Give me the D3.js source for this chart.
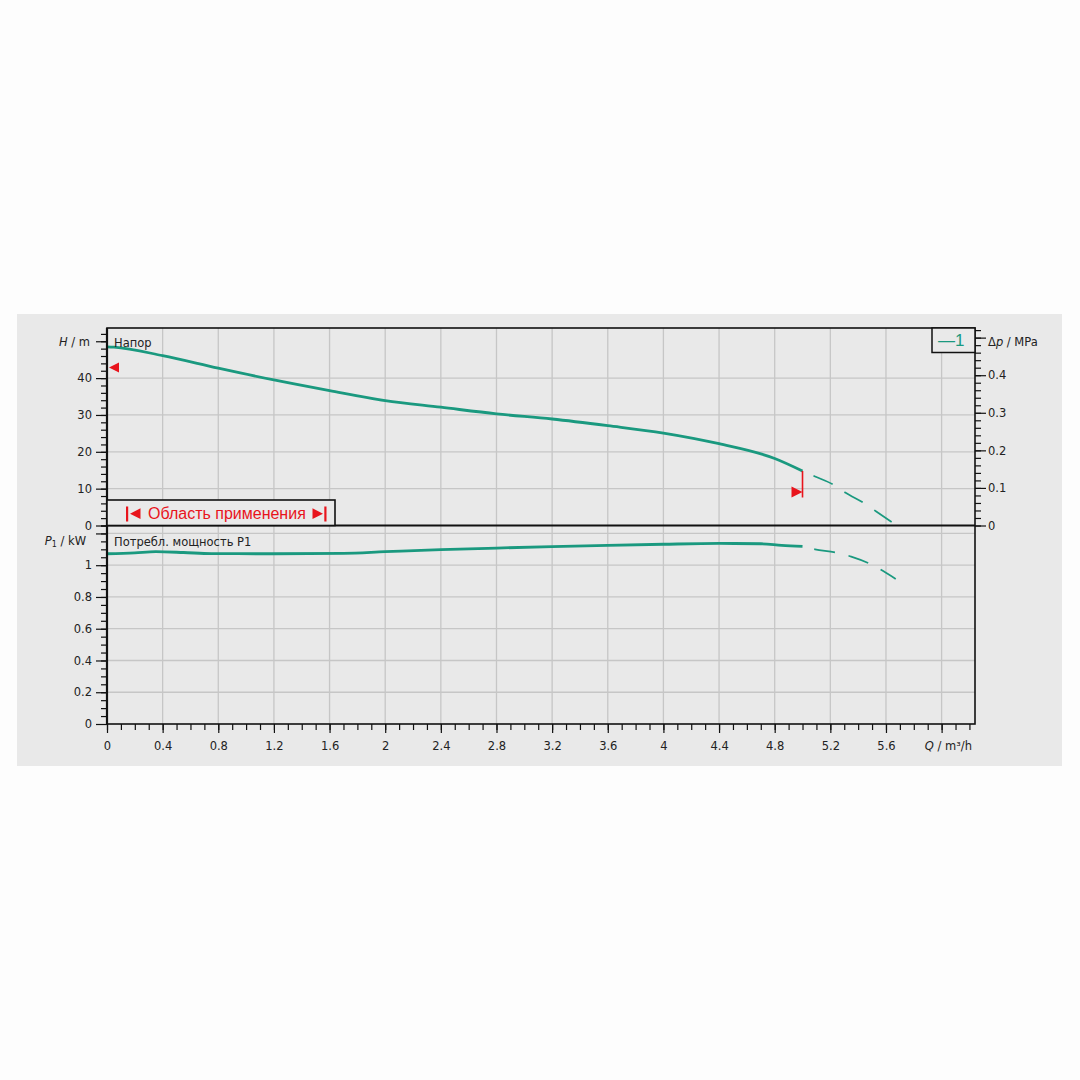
<!DOCTYPE html>
<html lang="ru">
<head>
<meta charset="UTF-8">
<title>Напор / Потребл. мощность P1</title>
<style>
  html, body { margin: 0; padding: 0; background: #fdfdfd; }
  svg { display: block; }
  .axis text { font-family: "DejaVu Sans", Verdana, sans-serif; font-size: 11.5px; fill: #222; }
  .axis line { stroke: #111; stroke-width: 1.2; }
  .lbl { font-family: "DejaVu Sans", Verdana, sans-serif; font-size: 11.5px; fill: #222; }
</style>
</head>
<body>
<svg id="chart" width="1080" height="1080"></svg>
<script src="https://cdn.jsdelivr.net/npm/d3@7"></script>
<script>
// --- данные ---
// напор H (м) в рабочей области
const headQ = [0, 0.05, 0.4, 0.8, 1.2, 1.6, 2.0, 2.4, 2.8, 3.2, 3.6, 4.0, 4.4, 4.8, 5.0];
const headH = [48.5, 48.4, 46.1, 42.7, 39.5, 36.6, 33.9, 32.1, 30.3, 28.9, 27.1, 25.1, 22.2, 18.2, 14.8];
// продолжение кривой напора (пунктир)
const headExtQ = [5.0, 5.09, 5.23, 5.31, 5.45, 5.53, 5.67];
const headExtH = [14.8, 13.3, 10.9, 8.9, 5.9, 3.8, 0.2];

// потребляемая мощность P1 (кВт)
const powerQ = [0, 0.2, 0.35, 0.55, 0.75, 1.2, 1.7, 2.0, 2.4, 2.8, 3.2, 3.6, 4.0, 4.4, 4.7, 4.85, 5.0];
const powerP = [1.072, 1.078, 1.085, 1.080, 1.073, 1.072, 1.075, 1.085, 1.098, 1.108, 1.117, 1.125, 1.132, 1.137, 1.135, 1.125, 1.118];
const powerExtQ = [5.0, 5.09, 5.24, 5.35, 5.49, 5.58, 5.67];
const powerExtP = [1.118, 1.100, 1.079, 1.054, 1.006, 0.963, 0.913];

// границы области применения (Q, H)
const limitLeft = [0, 42.9];
const limitRight = [5.0, 9.1];
const limitRightLineH = [14.8, 7.6];

// тики
const qMajor = d3.range(0, 16).map(i => +(i * 0.4).toFixed(1));
const qMinor = d3.range(0, 63).map(i => +(i * 0.1).toFixed(1));
const hMajor = [0, 10, 20, 30, 40, 50];
const hMinor = d3.range(0, 27).map(i => i * 2);
const dpMajor = [0, 0.1, 0.2, 0.3, 0.4, 0.5];
const dpMinor = d3.range(0, 27).map(i => +(i * 0.02).toFixed(2));
const pMajor = [0, 0.2, 0.4, 0.6, 0.8, 1, 1.2];
const pMinor = d3.range(0, 26).map(i => +(i * 0.05).toFixed(2));

const teal = '#1a997f';
const red = '#e8141c';

const svg = d3.select('#chart');

// серая подложка
svg.append('rect')
  .attr('x', 17).attr('y', 314).attr('width', 1045).attr('height', 452)
  .attr('fill', '#e9e9e9');

// шкалы
const x = d3.scaleLinear().domain([0, 6.24]).range([107, 975]);
const yH = d3.scaleLinear().domain([0, 53.6]).range([525.5, 328]);
const yDp = d3.scaleLinear().domain([0, 53.6 * 0.00980665]).range([525.5, 328]);
const yP = d3.scaleLinear().domain([0, 1.25]).range([724, 525.5]);

// сетка
const grid = svg.append('g').attr('stroke', '#c6c6c6').attr('stroke-width', 1.3);
grid.selectAll('.gx').data(qMajor.filter(d => d > 0)).join('line')
  .attr('x1', d => x(d)).attr('x2', d => x(d)).attr('y1', 328).attr('y2', 724);
grid.selectAll('.gh').data([10, 20, 30, 40]).join('line')
  .attr('x1', 107).attr('x2', 975).attr('y1', d => yH(d)).attr('y2', d => yH(d));
grid.selectAll('.gp').data(pMajor.filter(d => d > 0)).join('line')
  .attr('x1', 107).attr('x2', 975).attr('y1', d => yP(d)).attr('y2', d => yP(d));

// оси
function drawAxis(axis, tx, ty) {
  const g = svg.append('g').attr('class', 'axis').attr('transform', `translate(${tx},${ty})`).call(axis);
  g.select('.domain').remove();
  return g;
}
drawAxis(d3.axisBottom(x).tickValues(qMinor).tickSize(6).tickFormat(''), 0, 724);
drawAxis(d3.axisBottom(x).tickValues(qMajor).tickSize(9).tickPadding(9)
  .tickFormat(d => d >= 6 ? '' : d3.format('~g')(d)), 0, 724);

drawAxis(d3.axisLeft(yH).tickValues(hMinor).tickSize(6).tickFormat(''), 107, 0);
drawAxis(d3.axisLeft(yH).tickValues(hMajor).tickSize(11).tickPadding(4)
  .tickFormat(d => d >= 50 ? '' : d), 107, 0);

drawAxis(d3.axisLeft(yP).tickValues(pMinor.filter(d => d > 0)).tickSize(6).tickFormat(''), 107, 0);
drawAxis(d3.axisLeft(yP).tickValues(pMajor).tickSize(11).tickPadding(4)
  .tickFormat(d => d >= 1.2 ? '' : d3.format('~g')(d)), 107, 0);

drawAxis(d3.axisRight(yDp).tickValues(dpMinor).tickSize(6).tickFormat(''), 975, 0);
drawAxis(d3.axisRight(yDp).tickValues(dpMajor).tickSize(11).tickPadding(2)
  .tickFormat(d => d >= 0.5 ? '' : d3.format('~g')(d)), 975, 0);

// кривые
const lineH = d3.line().x(d => x(d[0])).y(d => yH(d[1])).curve(d3.curveMonotoneX);
const lineP = d3.line().x(d => x(d[0])).y(d => yP(d[1])).curve(d3.curveMonotoneX);
const zip = (a, b) => a.map((v, i) => [v, b[i]]);

svg.append('path').datum(zip(headQ, headH)).attr('d', lineH)
  .attr('fill', 'none').attr('stroke', teal).attr('stroke-width', 2.8).attr('stroke-linejoin', 'round');
svg.append('path').datum(zip(headExtQ, headExtH)).attr('d', lineH)
  .attr('fill', 'none').attr('stroke', teal).attr('stroke-width', 1.7)
  .attr('stroke-dasharray', '21 14').attr('stroke-dashoffset', 23);

svg.append('path').datum(zip(powerQ, powerP)).attr('d', lineP)
  .attr('fill', 'none').attr('stroke', teal).attr('stroke-width', 2.8).attr('stroke-linejoin', 'round');
svg.append('path').datum(zip(powerExtQ, powerExtP)).attr('d', lineP)
  .attr('fill', 'none').attr('stroke', teal).attr('stroke-width', 1.7)
  .attr('stroke-dasharray', '21 14').attr('stroke-dashoffset', 23);

// маркеры области применения
const lx = x(limitLeft[0]) + 2, ly = yH(limitLeft[1]);
svg.append('path').attr('d', `M${lx},${ly} L${lx + 10},${ly - 5} L${lx + 10},${ly + 5} Z`).attr('fill', red);
const rx = x(limitRight[0]), ry = yH(limitRight[1]);
svg.append('line').attr('x1', rx).attr('x2', rx)
  .attr('y1', yH(limitRightLineH[0])).attr('y2', yH(limitRightLineH[1]))
  .attr('stroke', red).attr('stroke-width', 1.6);
svg.append('path').attr('d', `M${rx},${ry} L${rx - 11},${ry - 5.5} L${rx - 11},${ry + 5.5} Z`).attr('fill', red);

// рамка
const frame = svg.append('g').attr('stroke', '#111');
frame.append('rect').attr('x', 107).attr('y', 328).attr('width', 868).attr('height', 396)
  .attr('fill', 'none').attr('stroke-width', 1.6);
frame.append('line').attr('x1', 107).attr('x2', 107).attr('y1', 328).attr('y2', 724).attr('stroke-width', 2.2);
frame.append('line').attr('x1', 107).attr('x2', 975).attr('y1', 525.5).attr('y2', 525.5).attr('stroke-width', 2.2);

// поле "Область применения"
svg.append('rect').attr('x', 107).attr('y', 500).attr('width', 228).attr('height', 25.5)
  .attr('fill', '#e9e9e9').attr('stroke', '#111').attr('stroke-width', 1.6);
const app = svg.append('g').attr('fill', red);
app.append('rect').attr('x', 126).attr('y', 506.5).attr('width', 2.2).attr('height', 15);
app.append('path').attr('d', 'M130,513.7 L140.5,508.3 L140.5,519 Z');
app.append('text').attr('x', 148).attr('y', 519)
  .attr('font-family', '"Liberation Sans", Arial, sans-serif').attr('font-size', 16)
  .text('Область применения');
app.append('path').attr('d', 'M323,513.7 L312.5,508.3 L312.5,519 Z');
app.append('rect').attr('x', 324.3).attr('y', 506.5).attr('width', 2.2).attr('height', 15);

// легенда
svg.append('rect').attr('x', 932).attr('y', 328).attr('width', 43).attr('height', 24.5)
  .attr('fill', '#e9e9e9').attr('stroke', '#111').attr('stroke-width', 1.5);
svg.append('text').attr('x', 938).attr('y', 346)
  .attr('font-family', '"Liberation Sans", Arial, sans-serif').attr('font-size', 17)
  .attr('fill', teal).text('—1');

// подписи
svg.append('text').attr('class', 'lbl').attr('x', 114).attr('y', 347).attr('fill', '#111').text('Напор');
svg.append('text').attr('class', 'lbl').attr('x', 114).attr('y', 546).attr('fill', '#111').text('Потребл. мощность P1');

const hl = svg.append('text').attr('class', 'lbl').attr('x', 90).attr('y', 345.5).attr('text-anchor', 'end');
hl.append('tspan').attr('font-style', 'italic').text('H');
hl.append('tspan').text(' / m');

const pl = svg.append('text').attr('class', 'lbl').attr('x', 86).attr('y', 544.5).attr('text-anchor', 'end');
pl.append('tspan').attr('font-style', 'italic').text('P');
pl.append('tspan').attr('font-size', 8).attr('dy', 2).text('1');
pl.append('tspan').attr('dy', -2).text(' / kW');

const dl = svg.append('text').attr('class', 'lbl').attr('x', 988).attr('y', 345.5);
dl.append('tspan').text('Δ');
dl.append('tspan').attr('font-style', 'italic').text('p');
dl.append('tspan').text(' / MPa');

const ql = svg.append('text').attr('class', 'lbl').attr('x', 972).attr('y', 750).attr('text-anchor', 'end');
ql.append('tspan').attr('font-style', 'italic').text('Q');
ql.append('tspan').text(' / m³/h');
</script>
</body>
</html>
